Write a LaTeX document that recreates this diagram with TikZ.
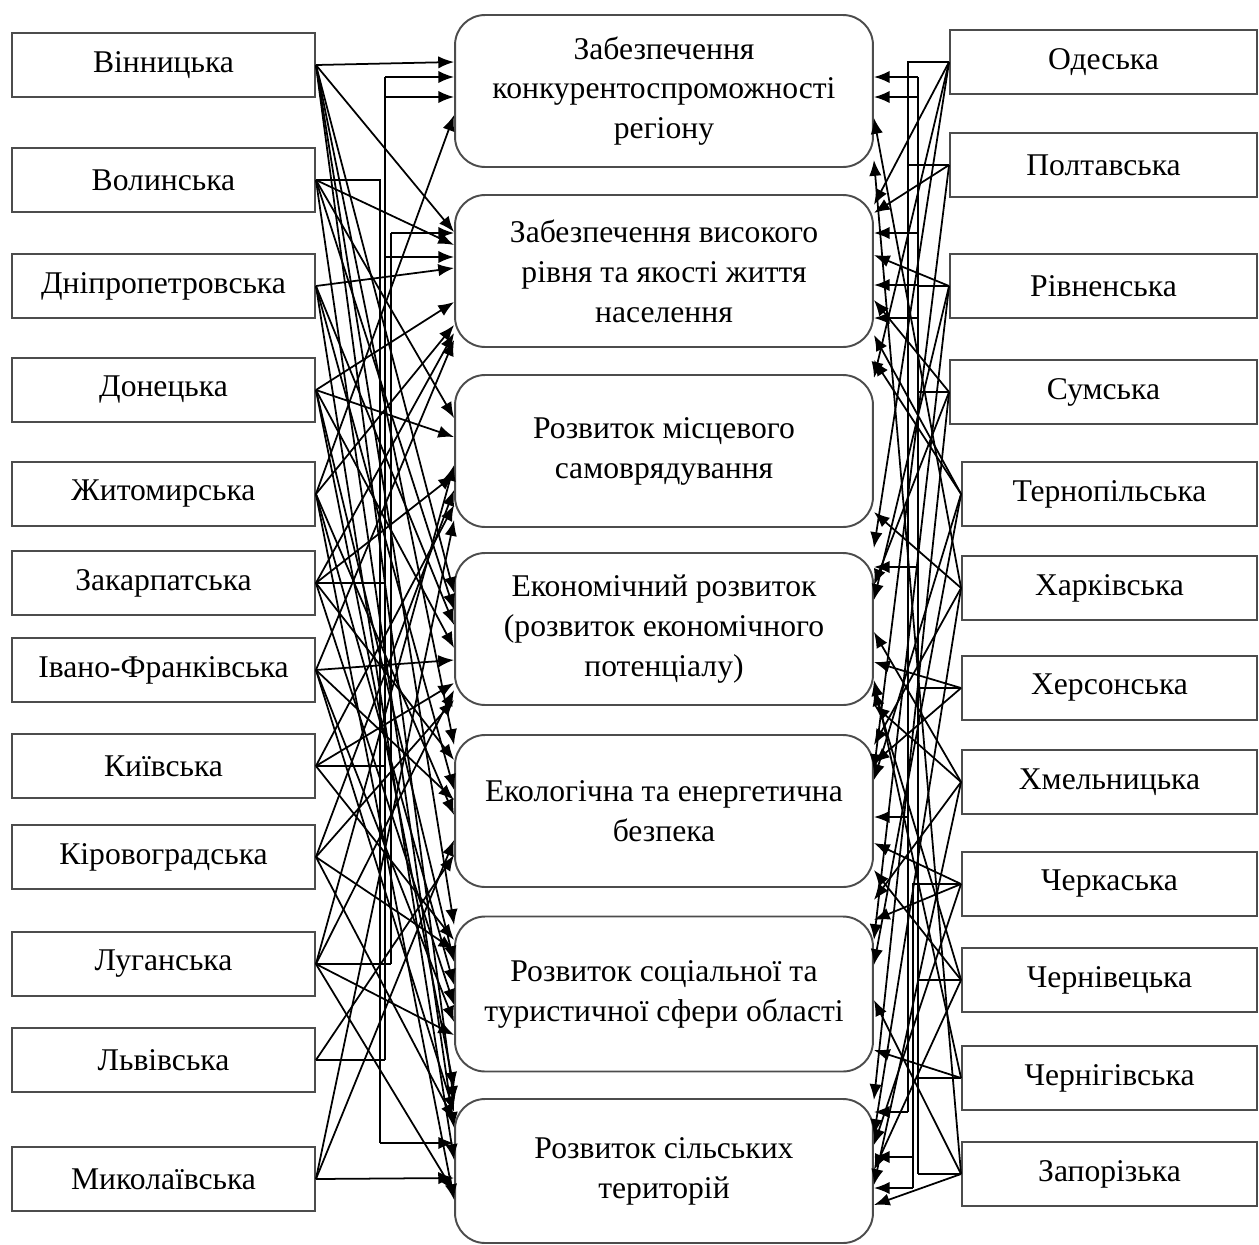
\documentclass[tikz,border=0pt]{standalone}
\usepackage{fontspec}
\setmainfont{Liberation Serif}
\usetikzlibrary{arrows.meta}
\newcommand\tx{\fontsize{18pt}{22.7pt}\selectfont}
\newcommand\lar[3]{\draw[arr] (#1.east) -- (#2.west |- 0,#3);}
\newcommand\rar[3]{\draw[arr] (#1.west) -- (#2.east |- 0,#3);}
\tikzset{
  lbox/.style={draw=black!70, line width=1.1pt, minimum width=6.06cm, minimum height=1.28cm, inner sep=0pt, font=\tx},
  rboxa/.style={lbox, minimum width=6.14cm},
  rboxb/.style={lbox, minimum width=5.9cm},
  cbox/.style={draw=black!70, line width=1.1pt, rounded corners=0.6cm, minimum width=8.36cm, minimum height=3.04cm, inner sep=0pt, align=center, font=\tx},
  arr/.style={-{Latex[length=9pt,width=7pt]}, line width=1pt},
  ln/.style={line width=1pt}
}
\begin{document}
\begin{tikzpicture}[x=0.02cm,y=-0.02cm]
\useasboundingbox (0,0) rectangle (1259,1245);
% left boxes
\node[lbox] (vin) at (163.5,65) {Вінницька};
\node[lbox] (vol) at (163.5,180) {Волинська};
\node[lbox] (dni) at (163.5,286) {Дніпропетровська};
\node[lbox] (don) at (163.5,390) {Донецька};
\node[lbox] (zhy) at (163.5,494) {Житомирська};
\node[lbox] (zak) at (163.5,583) {Закарпатська};
\node[lbox] (ivf) at (163.5,670) {Івано-Франківська};
\node[lbox] (kyi) at (163.5,766) {Київська};
\node[lbox] (kir) at (163.5,857) {Кіровоградська};
\node[lbox] (luh) at (163.5,964) {Луганська};
\node[lbox] (lvi) at (163.5,1060) {Львівська};
\node[lbox] (myk) at (163.5,1179) {Миколаївська};
% right boxes
\node[rboxa] (ode) at (1103.5,62) {Одеська};
\node[rboxa] (pol) at (1103.5,165) {Полтавська};
\node[rboxa] (riv) at (1103.5,286) {Рівненська};
\node[rboxa] (sum) at (1103.5,392) {Сумська};
\node[rboxb] (ter) at (1109.5,494) {Тернопільська};
\node[rboxb] (kha) at (1109.5,588) {Харківська};
\node[rboxb] (khe) at (1109.5,688) {Херсонська};
\node[rboxb] (khm) at (1109.5,782) {Хмельницька};
\node[rboxb] (che) at (1109.5,884) {Черкаська};
\node[rboxb] (chv) at (1109.5,980) {Чернівецька};
\node[rboxb] (chg) at (1109.5,1078) {Чернігівська};
\node[rboxb] (zap) at (1109.5,1174) {Запорізька};
% centre boxes
\node[cbox] (b1) at (664,91) {Забезпечення\\конкурентоспроможності\\регіону};
\node[cbox] (b2) at (664,271) {Забезпечення високого\\рівня та якості життя\\населення};
\node[cbox] (b3) at (664,451) {Розвиток місцевого\\самоврядування};
\node[cbox] (b4) at (664,629) {Економічний розвиток\\(розвиток економічного\\потенціалу)};
\node[cbox] (b5) at (664,811) {Екологічна та енергетична\\безпека};
\node[cbox, minimum height=3.1cm] (b6) at (664,994) {Розвиток соціальної та\\туристичної сфери області};
\node[cbox, minimum height=2.88cm] (b7) at (664,1171) {Розвиток сільських\\територій};
% left buses
\coordinate (P0) at (385,77); \coordinate (P1) at (385,1060);
\coordinate (Q0) at (380,180); \coordinate (Q1) at (380,1143);
\coordinate (R0) at (391,233); \coordinate (R1) at (391,964);
\draw[ln] (P0) -- (P1);
\draw[ln] (vol.east) -- (Q0) -- (Q1);
\draw[ln] (R0) -- (R1);
\draw[arr] (P0) -- (b1.west |- P0);
\draw[arr] (P0 |- 0,97) -- (b1.west |- 0,97);
\draw[arr] (P0 |- 0,257) -- (b2.west |- 0,257);
\draw[arr] (R0) -- (b2.west |- R0);
\draw[arr] (Q1) -- (b7.west |- Q1);
\draw[ln] (zak.east) -- (zak.east -| P0);
\draw[ln] (kyi.east) -- (kyi.east -| P0);
\draw[ln] (lvi.east) -- (P1);
\draw[ln] (luh.east) -- (R1);
% left arrows
\lar{vin}{b1}{62}
\lar{vin}{b2}{232}
\lar{vin}{b4}{593}
\lar{vin}{b5}{745}
\lar{vin}{b6}{925}
\lar{vin}{b7}{1102}
\lar{vol}{b2}{245}
\lar{vol}{b3}{418}
\lar{vol}{b4}{610}
\lar{vol}{b7}{1128}
\lar{dni}{b2}{268}
\lar{dni}{b4}{625}
\lar{dni}{b5}{790}
\lar{dni}{b7}{1160}
\lar{don}{b2}{302}
\lar{don}{b3}{437}
\lar{don}{b4}{648}
\lar{don}{b6}{962}
\lar{don}{b7}{1088}
\lar{zhy}{b1}{115}
\lar{zhy}{b2}{325}
\lar{zhy}{b5}{815}
\lar{zhy}{b6}{985}
\lar{zhy}{b7}{1200}
\lar{zak}{b2}{333}
\lar{zak}{b3}{475}
\lar{zak}{b5}{760}
\lar{zak}{b6}{1005}
\lar{ivf}{b2}{340}
\lar{ivf}{b4}{660}
\lar{ivf}{b5}{800}
\lar{ivf}{b6}{1022}
\lar{ivf}{b7}{1112}
\lar{kyi}{b3}{505}
\lar{kyi}{b4}{683}
\lar{kyi}{b6}{940}
\lar{kir}{b3}{490}
\lar{kir}{b4}{700}
\lar{kir}{b6}{950}
\lar{kir}{b7}{1120}
\lar{luh}{b3}{465}
\lar{luh}{b4}{690}
\lar{luh}{b6}{1035}
\lar{luh}{b7}{1192}
\lar{lvi}{b5}{855}
\lar{myk}{b3}{520}
\lar{myk}{b5}{840}
\lar{myk}{b7}{1178}
% right buses
\coordinate (U0) at (908,62); \coordinate (U1) at (908,1112);
\coordinate (V0) at (918,77); \coordinate (V1) at (918,1174);
\coordinate (W0) at (913,884); \coordinate (W1) at (913,1188);
\draw[ln] (ode.west) -- (U0) -- (U1);
\draw[ln] (V0) -- (V1);
\draw[ln] (che.west) -- (W0) -- (W1);
\draw[ln] (pol.west) -- (pol.west -| U0);
\draw[arr] (U1) -- (b7.east |- U1);
\draw[arr] (U0 |- 0,817) -- (b5.east |- 0,817);
\draw[arr] (V0) -- (b1.east |- V0);
\draw[arr] (V0 |- 0,97) -- (b1.east |- 0,97);
\draw[arr] (V0 |- 0,233) -- (b2.east |- 0,233);
\draw[arr] (V0 |- 0,285) -- (b2.east |- 0,285);
\draw[arr] (V0 |- 0,318) -- (b2.east |- 0,318);
\draw[arr] (V0 |- 0,567) -- (b4.east |- 0,567);
\draw[arr] (W0 |- 0,1157) -- (b7.east |- 0,1157);
\draw[arr] (W1) -- (b7.east |- W1);
\draw[ln] (riv.west) -- (riv.west -| V0);
\draw[ln] (sum.west) -- (sum.west -| V0);
\draw[ln] (khe.west) -- (khe.west -| V0);
\draw[ln] (chv.west) -- (chv.west -| V0);
\draw[ln] (chg.west) -- (chg.west -| V0);
\draw[ln] (zap.west) -- (V1);
% right arrows
\rar{ode}{b2}{205}
\rar{ode}{b3}{378}
\rar{ode}{b4}{548}
\rar{pol}{b2}{213}
\rar{pol}{b5}{770}
\rar{riv}{b2}{255}
\rar{riv}{b4}{600}
\rar{riv}{b6}{940}
\rar{sum}{b2}{300}
\rar{sum}{b4}{585}
\rar{sum}{b7}{1100}
\rar{ter}{b2}{335}
\rar{ter}{b3}{360}
\rar{ter}{b5}{780}
\rar{ter}{b6}{965}
\rar{kha}{b1}{118}
\rar{kha}{b3}{512}
\rar{kha}{b5}{745}
\rar{kha}{b7}{1135}
\rar{khe}{b4}{662}
\rar{khe}{b5}{763}
\rar{khm}{b4}{632}
\rar{khm}{b4}{705}
\rar{khm}{b6}{900}
\rar{khm}{b7}{1185}
\rar{che}{b5}{843}
\rar{che}{b6}{920}
\rar{che}{b7}{1145}
\rar{chv}{b5}{870}
\rar{chv}{b4}{690}
\rar{chv}{b7}{1170}
\rar{chg}{b4}{680}
\rar{chg}{b6}{1050}
\rar{zap}{b1}{160}
\rar{zap}{b6}{1000}
\rar{zap}{b7}{1205}
\end{tikzpicture}
\end{document}
